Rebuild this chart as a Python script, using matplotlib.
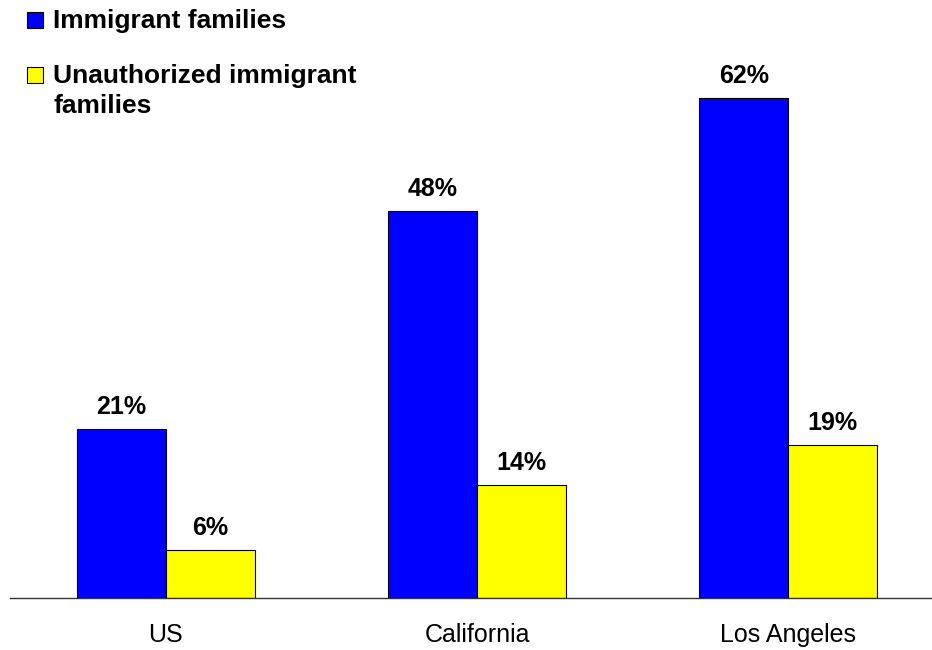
import matplotlib.pyplot as plt
from matplotlib.patches import Rectangle
import numpy as np

plt.rcParams['font.family'] = ['Liberation Sans', 'DejaVu Sans']

# share of families, by area
regions = ['US', 'California', 'Los Angeles']
immigrant = [21, 48, 62]
unauthorized = [6, 14, 19]

blue = '#0000FF'
yellow = '#FFFF00'

fig = plt.figure(figsize=(9.32, 6.5), dpi=100)
ax = fig.add_axes([10 / 932, 52 / 650, 922 / 932, 598 / 650])

x = np.arange(len(regions))
w = 0.285
b1 = ax.bar(x - w / 2, immigrant, w, color=blue, edgecolor='black', linewidth=0.8)
b2 = ax.bar(x + w / 2, unauthorized, w, color=yellow, edgecolor='black', linewidth=0.8)

for bars, vals in ((b1, immigrant), (b2, unauthorized)):
    for bar, v in zip(bars, vals):
        ax.text(bar.get_x() + bar.get_width() / 2, v + 1.86, f'{v}%',
                ha='center', va='baseline', fontsize=18, fontweight='bold')

ax.set_xlim(-0.5016, 2.463)
ax.set_ylim(0, 74.2)
ax.set_xticks(x)
ax.set_xticklabels(regions, fontsize=18)
ax.tick_params(axis='x', length=0, pad=18)
ax.set_yticks([])
for side in ('top', 'right', 'left'):
    ax.spines[side].set_visible(False)
ax.spines['bottom'].set_linewidth(1.0)
ax.spines['bottom'].set_color('#333333')


# legend drawn by hand at the top left
def legend_item(top_px, color, lines):
    fig.patches.append(Rectangle((27 / 932, 1 - (top_px + 16) / 650), 16 / 932, 16 / 650,
                                 transform=fig.transFigure, facecolor=color,
                                 edgecolor='black', linewidth=0.8))
    for i, line in enumerate(lines):
        fig.text(53 / 932, 1 - (top_px + 16 + 30 * i) / 650, line, fontsize=19,
                 fontweight='bold', va='baseline')


legend_item(12, blue, ['Immigrant families'])
legend_item(67, yellow, ['Unauthorized immigrant', 'families'])

fig.savefig('out.png', dpi=100)
